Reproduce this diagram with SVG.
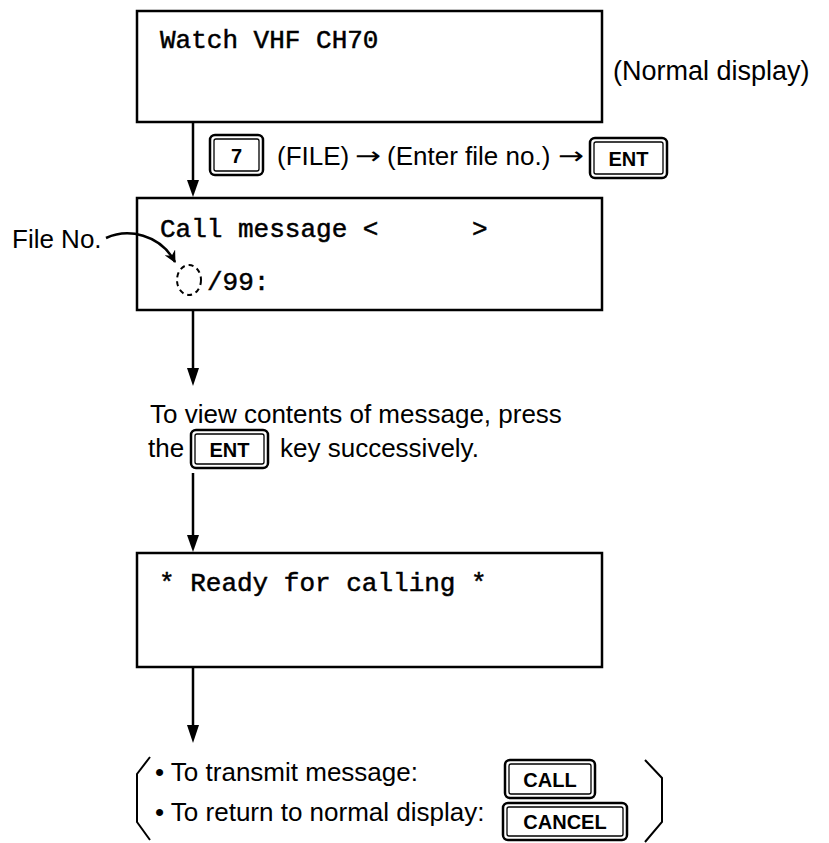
<svg xmlns="http://www.w3.org/2000/svg" width="829" height="843" viewBox="0 0 829 843">
<defs>
<style>
.box{fill:#fff;stroke:#000;stroke-width:2.5}
.mono{font-family:"Liberation Mono","Courier New",monospace;font-size:26px;fill:#000;stroke:#000;stroke-width:0.5}
.sans{font-family:"Liberation Sans",Arial,Helvetica,sans-serif;font-size:26px;fill:#000}
.arr{font-family:"DejaVu Sans",sans-serif;font-size:24px;fill:#000}
.keyo{fill:#fff;stroke:#000;stroke-width:2.5}
.keyi{fill:none;stroke:#000;stroke-width:1.3}
.keyt{font-family:"Liberation Sans",Arial,Helvetica,sans-serif;font-size:20px;font-weight:bold;fill:#000;text-anchor:middle}
.conn{stroke:#000;stroke-width:2.5;fill:none}
.paren{stroke:#000;stroke-width:2;fill:none}
</style>
<marker id="ah2" markerWidth="12" markerHeight="12" refX="11" refY="6" orient="auto" markerUnits="userSpaceOnUse" viewBox="0 0 12 12">
<path d="M0,0 L12,6 L0,12 L4,6 Z" fill="#000"/>
</marker>
</defs>

<g id="normal-display">
<rect class="box" x="137" y="11" width="465" height="111"/>
<text class="mono" x="160" y="48">Watch VHF CH70</text>
<text class="sans" x="613" y="80" style="font-size:27px">(Normal display)</text>
</g>

<g id="file-step">
<rect class="keyo" x="210" y="135" width="53" height="40" rx="5"/>
<rect class="keyi" x="214" y="139" width="45" height="32" rx="2"/>
<text class="keyt" x="236.5" y="163">7</text>
<text class="sans" x="277" y="165">(FILE)</text>
<text class="arr" x="355" y="164" textLength="26" lengthAdjust="spacingAndGlyphs">→</text>
<text class="sans" x="387" y="165">(Enter file no.)</text>
<text class="arr" x="558" y="164" textLength="26" lengthAdjust="spacingAndGlyphs">→</text>
<rect class="keyo" x="590" y="138" width="77" height="40" rx="5"/>
<rect class="keyi" x="594" y="142" width="69" height="32" rx="2"/>
<text class="keyt" x="628.5" y="166">ENT</text>
</g>

<g id="call-message">
<rect class="box" x="137" y="198" width="465" height="112"/>
<text class="mono" x="160" y="237" xml:space="preserve">Call message &lt;      &gt;</text>
<ellipse cx="189" cy="280" rx="12" ry="15" fill="none" stroke="#000" stroke-width="2" stroke-dasharray="5 4"/>
<text class="mono" x="207" y="290">/99:</text>
</g>

<g id="file-no-label">
<text class="sans" x="12" y="248">File No.</text>
</g>

<g id="view-contents">
<text class="sans" x="150" y="423">To view contents of message, press</text>
<text class="sans" x="148" y="457">the</text>
<rect class="keyo" x="191" y="430" width="77" height="38" rx="5"/>
<rect class="keyi" x="195" y="434" width="69" height="30" rx="2"/>
<text class="keyt" x="229.5" y="457">ENT</text>
<text class="sans" x="280" y="457">key successively.</text>
</g>

<g id="ready">
<rect class="box" x="137" y="553" width="465" height="114"/>
<text class="mono" x="159" y="591">* Ready for calling *</text>
</g>

<g id="options">
<polyline class="paren" points="150,757 137,774 137,822 150,840"/>
<polyline class="paren" points="645,760 662,778 662,822 645,842"/>
<text class="sans" x="155" y="781">• To transmit message:</text>
<text class="sans" x="155" y="821">• To return to normal display:</text>
<rect class="keyo" x="505" y="760" width="90" height="38" rx="5"/>
<rect class="keyi" x="509" y="764" width="82" height="30" rx="2"/>
<text class="keyt" x="550" y="787">CALL</text>
<rect class="keyo" x="503" y="803" width="124" height="37" rx="5"/>
<rect class="keyi" x="507" y="807" width="116" height="29" rx="2"/>
<text class="keyt" x="565" y="829">CANCEL</text>
</g>

<g id="connectors">
<line class="conn" x1="193" y1="122" x2="193" y2="180"/>
<path d="M187,180 L199,180 L193,197 Z" fill="#000"/>
<line class="conn" x1="193" y1="310" x2="193" y2="368"/>
<path d="M187,368 L199,368 L193,386 Z" fill="#000"/>
<line class="conn" x1="193" y1="473" x2="193" y2="535"/>
<path d="M187,535 L199,535 L193,552 Z" fill="#000"/>
<line class="conn" x1="193" y1="667" x2="193" y2="725"/>
<path d="M187,725 L199,725 L193,743 Z" fill="#000"/>
<path class="conn" stroke-width="2" d="M106,238 C128,228 160,234 175,262" marker-end="url(#ah2)"/>
</g>
</svg>
